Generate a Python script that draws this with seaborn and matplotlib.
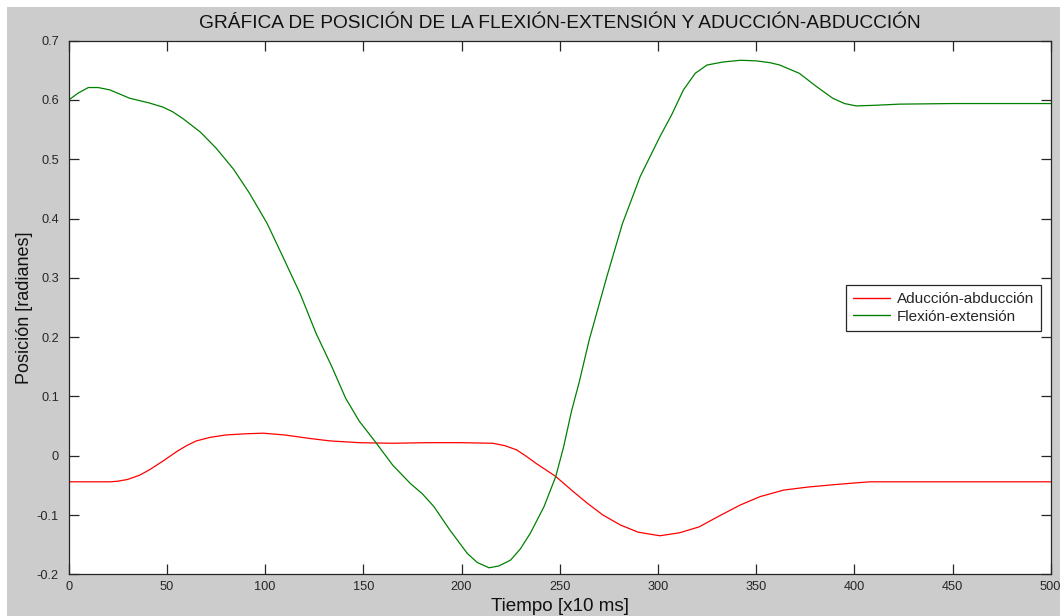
import matplotlib
matplotlib.use("Agg")
import matplotlib.pyplot as plt
from matplotlib.patches import Rectangle
import seaborn as sns
import pandas as pd

# ---- data ----
title = "GRÁFICA DE POSICIÓN DE LA FLEXIÓN-EXTENSIÓN Y ADUCCIÓN-ABDUCCIÓN"
xlabel = "Tiempo [x10 ms]"
ylabel = "Posición [radianes]"
series_names = ["Aducción-abducción", "Flexión-extensión"]

abd_t = [0, 10, 21, 25, 30, 36, 41, 48, 55, 60, 65, 72, 80, 90, 99, 110, 123,
         133, 148, 165, 182, 200, 216, 222, 228, 233, 238, 243, 248, 256, 264,
         272, 281, 290, 301, 311, 321, 331, 342, 352, 364, 376, 389, 400, 408,
         450, 500]
abd_y = [-0.044, -0.044, -0.044, -0.043, -0.040, -0.033, -0.024, -0.009, 0.007,
         0.017, 0.025, 0.031, 0.035, 0.037, 0.038, 0.035, 0.029, 0.025, 0.022,
         0.021, 0.022, 0.022, 0.021, 0.017, 0.010, -0.001, -0.013, -0.024,
         -0.035, -0.058, -0.080, -0.100, -0.117, -0.129, -0.135, -0.130, -0.120,
         -0.102, -0.083, -0.069, -0.058, -0.053, -0.049, -0.046, -0.044, -0.044,
         -0.044]

flex_t = [0, 5, 10, 15, 21, 31, 41, 48, 53, 58, 67, 75, 84, 92, 101, 109, 118,
          126, 134, 141, 148, 156, 165, 174, 180, 186, 194, 203, 208, 214, 219,
          225, 230, 235, 242, 248, 252, 256, 260, 265, 274, 282, 291, 301, 307,
          313, 319, 325, 333, 342, 350, 357, 362, 372, 381, 389, 395, 401, 410,
          423, 450, 475, 500]
flex_y = [0.600, 0.612, 0.621, 0.621, 0.617, 0.603, 0.595, 0.588, 0.580, 0.569,
          0.546, 0.519, 0.483, 0.443, 0.392, 0.336, 0.272, 0.206, 0.150, 0.097,
          0.058, 0.024, -0.016, -0.047, -0.064, -0.086, -0.125, -0.165, -0.180,
          -0.189, -0.186, -0.176, -0.157, -0.131, -0.086, -0.035, 0.015, 0.075,
          0.125, 0.195, 0.302, 0.392, 0.471, 0.538, 0.575, 0.617, 0.645, 0.659,
          0.664, 0.667, 0.666, 0.663, 0.659, 0.645, 0.622, 0.603, 0.594, 0.590,
          0.591, 0.593, 0.594, 0.594, 0.594]

xticks = [0, 50, 100, 150, 200, 250, 300, 350, 400, 450, 500]
yticks = [-0.2, -0.1, 0, 0.1, 0.2, 0.3, 0.4, 0.5, 0.6, 0.7]
ytick_labels = ["-0.2", "-0.1", "0", "0.1", "0.2", "0.3", "0.4", "0.5", "0.6", "0.7"]

df = pd.concat([
    pd.DataFrame({"t": abd_t, "y": abd_y, "serie": series_names[0]}),
    pd.DataFrame({"t": flex_t, "y": flex_y, "serie": series_names[1]}),
], ignore_index=True)

# ---- style ----
sns.set_style("ticks")
plt.rcParams["font.family"] = ["Liberation Sans", "DejaVu Sans"]

W, H = 1060, 616
fig = plt.figure(figsize=(W / 100, H / 100), dpi=100)
fig.patch.set_facecolor("white")
fig.patches.append(Rectangle((7 / W, 0), 1 - 7 / W, 1 - 7 / H,
                             transform=fig.transFigure, facecolor="#cccccc",
                             edgecolor="none", zorder=-10))

ax = fig.add_axes([68.7 / W, (H - 574.3) / H, (1050.7 - 68.7) / W, (574.3 - 40.7) / H])
ax.set_facecolor("white")

sns.lineplot(data=df, x="t", y="y", hue="serie", hue_order=series_names,
             palette={series_names[0]: "#ff0000", series_names[1]: "#008000"},
             estimator=None, sort=False, linewidth=0.9, ax=ax)

ax.set_xlim(0, 500)
ax.set_ylim(-0.2, 0.7)
ax.set_xticks(xticks)
ax.set_xticklabels([str(v) for v in xticks])
ax.set_yticks(yticks)
ax.set_yticklabels(ytick_labels)

for s in ax.spines.values():
    s.set_visible(True)
    s.set_color("#262626")
    s.set_linewidth(0.9)

ax.tick_params(axis="both", which="both", direction="in", length=7, width=0.9,
               color="#262626", top=True, right=True, labelsize=9.2,
               labelcolor="#262626")
ax.tick_params(axis="x", pad=5)
ax.tick_params(axis="y", pad=7)

ax.set_title(title, fontsize=13.8, color="#111111", pad=9)
ax.set_xlabel(xlabel, fontsize=13.6, color="#111111")
ax.set_ylabel(ylabel, fontsize=13, color="#111111")
ax.xaxis.set_label_coords(0.5, -0.044)
ax.yaxis.set_label_coords(-0.036, 0.5)

leg = ax.legend(loc="upper left", bbox_to_anchor=(0.7916, 0.542),
                borderaxespad=0, fontsize=11, frameon=True, fancybox=False,
                edgecolor="#262626", facecolor="white", framealpha=1,
                handlelength=2.45, handletextpad=0.42, borderpad=0.45,
                labelspacing=0.25, title=None)
leg.get_frame().set_linewidth(0.9)
for line in leg.get_lines():
    line.set_linewidth(1.0)

fig.savefig("out.png", dpi=100, facecolor=fig.get_facecolor())
